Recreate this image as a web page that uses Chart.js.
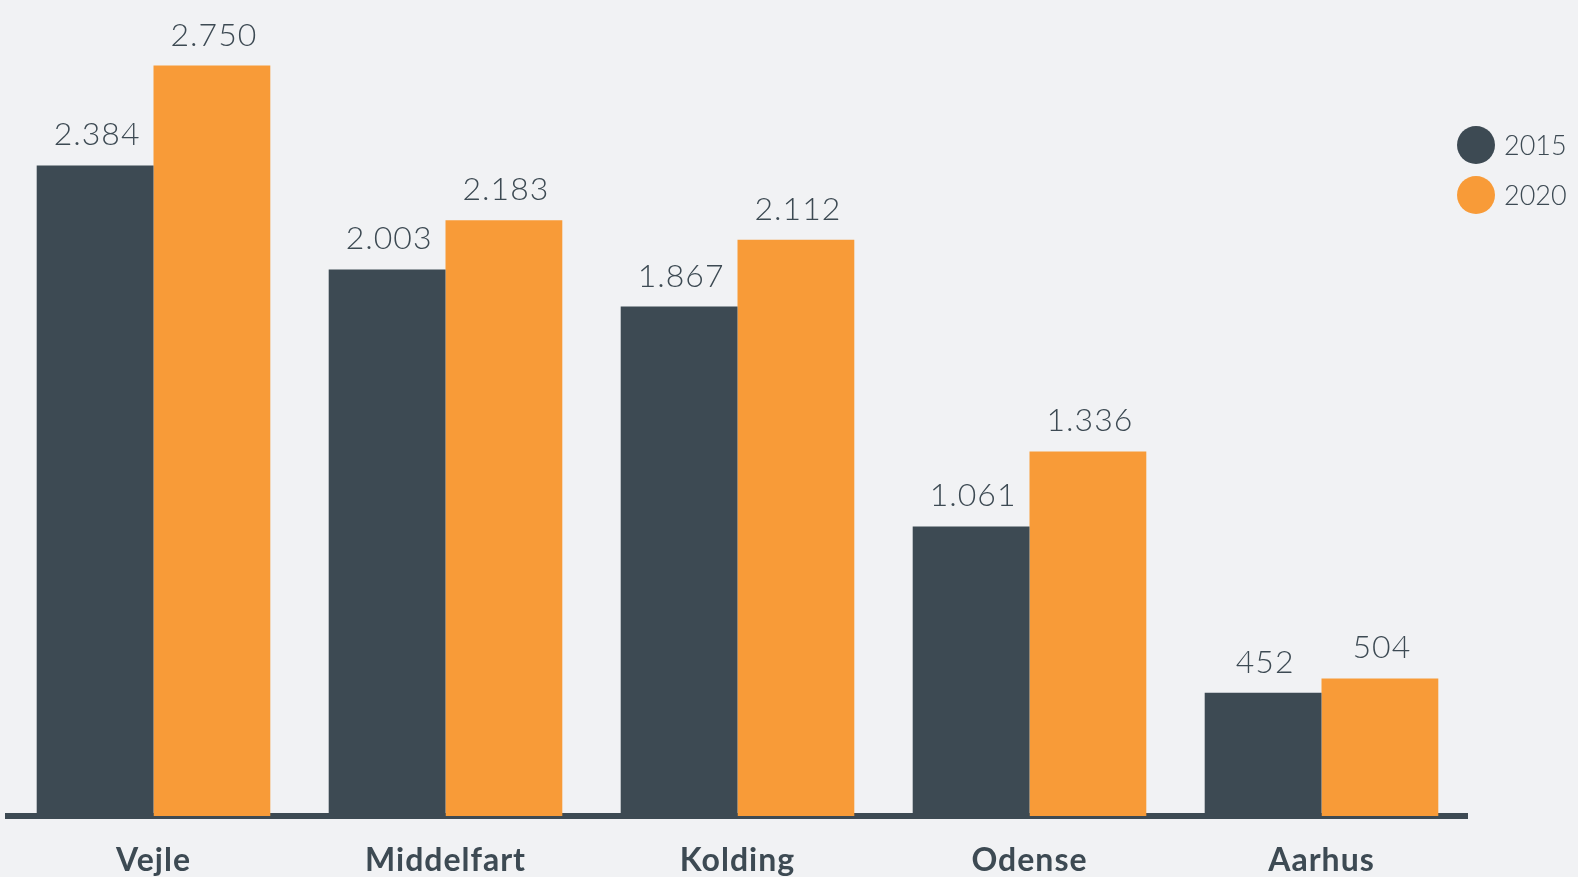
<!DOCTYPE html>
<html>
<head>
<meta charset="utf-8">
<script src="https://cdn.jsdelivr.net/npm/chart.js@4/dist/chart.umd.min.js"></script>
<style>
  html, body { margin: 0; padding: 0; background: #f1f2f4; }
  canvas { display: block; }
</style>
</head>
<body>
<canvas id="barChart" width="1578" height="877"></canvas>
<script>
// data
const byer = ['Vejle', 'Middelfart', 'Kolding', 'Odense', 'Aarhus'];
const aar = ['2015', '2020'];
const vaerdi2015 = [2384, 2003, 1867, 1061, 452];
const vaerdi2020 = [2750, 2183, 2112, 1336, 504];

const moerk = '#3d4a53';
const orange = '#f89b38';

// dansk tusindtalsseparator
const fmt = v => String(v).replace(/\B(?=(\d{3})+(?!\d))/g, '.');

// tal over soejlerne
const labelPlugin = {
    id: 'soejleTal',
    beforeDraw(chart) {
        chart.ctx.letterSpacing = '1px';
    },
    afterDatasetsDraw(chart) {
        const ctx = chart.ctx;
        ctx.save();
        ctx.letterSpacing = '1px';
        ctx.font = '300 32px Lato';
        ctx.fillStyle = moerk;
        ctx.textAlign = 'center';
        ctx.textBaseline = 'alphabetic';
        chart.data.datasets.forEach((ds, i) => {
            chart.getDatasetMeta(i).data.forEach((bar, j) => {
                ctx.fillText(fmt(ds.data[j]), bar.x + 2, bar.y - 20);
            });
        });
        ctx.restore();
    },
    afterDraw(chart) {
        // forklaring til hoejre
        const ctx = chart.ctx;
        ctx.save();
        ctx.letterSpacing = '0px';
        ctx.font = '300 27px Lato';
        ctx.textAlign = 'left';
        ctx.textBaseline = 'middle';
        chart.data.datasets.forEach((ds, i) => {
            const cy = 145 + i * 50;
            ctx.beginPath();
            ctx.arc(1476, cy, 19, 0, Math.PI * 2);
            ctx.fillStyle = ds.backgroundColor;
            ctx.fill();
            ctx.fillStyle = moerk;
            ctx.fillText(ds.label, 1504, cy + 1);
        });
        ctx.restore();
    }
};

const ctx = document.getElementById('barChart').getContext('2d');

new Chart(ctx, {
    type: 'bar',
    data: {
        labels: byer,
        datasets: [{
            label: aar[0],
            data: vaerdi2015,
            backgroundColor: moerk,
            borderWidth: 0
        }, {
            label: aar[1],
            data: vaerdi2020,
            backgroundColor: orange,
            borderWidth: 0
        }]
    },
    options: {
        responsive: false,
        animation: false,
        layout: {
            padding: { left: 7.5, right: 110.5, top: 11, bottom: 0 }
        },
        datasets: {
            bar: {
                categoryPercentage: 0.8,
                barPercentage: 1.0
            }
        },
        scales: {
            x: {
                z: 1,
                grid: { display: false, drawTicks: false },
                border: { display: true, color: moerk, width: 6 },
                ticks: {
                    color: moerk,
                    padding: 25,
                    font: { family: 'Lato', size: 32, weight: 'bold' }
                },
                afterFit(scale) {
                    scale.height = 61;
                }
            },
            y: {
                display: false,
                min: 0,
                max: 2950
            }
        },
        plugins: {
            legend: { display: false },
            tooltip: { enabled: false }
        }
    },
    plugins: [labelPlugin]
});
</script>
</body>
</html>
